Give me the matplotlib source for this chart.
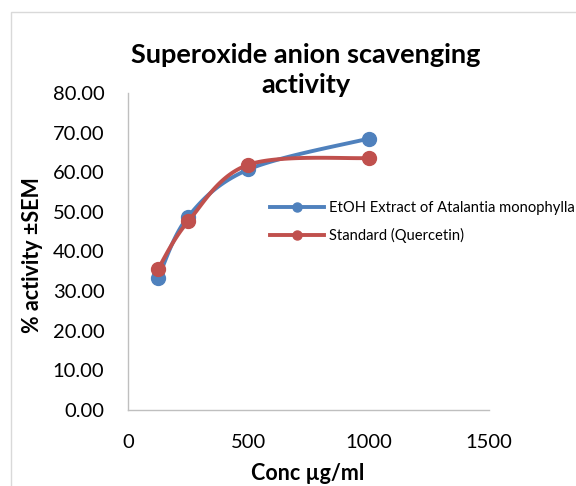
import numpy as np
import matplotlib
matplotlib.use('Agg')
import matplotlib.pyplot as plt
from matplotlib.patches import Rectangle

plt.rcParams['font.family'] = ['Lato', 'DejaVu Sans']

# data
conc = [125, 250, 500, 1000]
etoh = [33.3, 48.8, 60.7, 68.5]
standard = [35.6, 47.6, 61.9, 63.6]
series_names = ['EtOH Extract of Atalantia monophylla', 'Standard (Quercetin)']
y_ticks = [0, 10, 20, 30, 40, 50, 60, 70, 80]
x_ticks = [0, 500, 1000, 1500]


def smooth(xs, ys, n=40):
    # Excel-like smoothed line (Catmull-Rom bezier)
    p = np.column_stack([xs, ys]).astype(float)
    pts = []
    for i in range(len(p) - 1):
        p0 = p[i - 1] if i > 0 else p[i]
        p3 = p[i + 2] if i + 2 < len(p) else p[i + 1]
        c1 = p[i] + (p[i + 1] - p0) / 6
        c2 = p[i + 1] - (p3 - p[i]) / 6
        t = np.linspace(0, 1, n)[:, None]
        seg = ((1 - t) ** 3) * p[i] + 3 * ((1 - t) ** 2) * t * c1 + 3 * (1 - t) * t ** 2 * c2 + t ** 3 * p[i + 1]
        pts.append(seg)
    pts = np.vstack(pts)
    return pts[:, 0], pts[:, 1]


fig = plt.figure(figsize=(5.76, 4.86), dpi=100)
fig.patches.append(Rectangle((11 / 576, -0.1), 1.2, 1 - 12 / 486 + 0.1, transform=fig.transFigure,
                             fill=False, edgecolor='#D9D9D9', lw=1))
ax = fig.add_axes([128 / 576, 76 / 486, 361 / 576, 317 / 486])

colors = ['#4F81BD', '#C0504D']
for ys, c, name in zip([etoh, standard], colors, series_names):
    sx, sy = smooth(conc, ys)
    ax.plot(sx, sy, color=c, lw=2.8, solid_capstyle='round')
    ax.plot(conc, ys, 'o', color=c, ms=10)
    ax.plot([], [], '-o', color=c, lw=2.8, ms=6.5, label=name)

ax.set_xlim(0, 1500)
ax.set_ylim(0, 80)
ax.set_xticks(x_ticks)
ax.set_yticks(y_ticks)
ax.set_yticklabels(['%.2f' % v for v in y_ticks])
ax.tick_params(length=0, labelsize=14.5)
ax.tick_params(axis='y', pad=17)
ax.tick_params(axis='x', pad=17)
for s in ['top', 'right']:
    ax.spines[s].set_visible(False)
for s in ['left', 'bottom']:
    ax.spines[s].set_color('#BFBFBF')
    ax.spines[s].set_linewidth(1)

fig.text(306 / 576, 1 - 70 / 486, 'Superoxide anion scavenging\nactivity', ha='center', va='center',
         fontsize=19.5, fontweight='bold', linespacing=1.3)
fig.text(308 / 576, 1 - 473 / 486, 'Conc µg/ml', ha='center', va='center', fontsize=15.5, fontweight='bold')
fig.text(33 / 576, 1 - 255 / 486, '% activity ±SEM', ha='center', va='center', rotation=90,
         fontsize=15.5, fontweight='bold')

ax.legend(loc='upper left', bbox_to_anchor=(270 / 576, 1 - 201 / 486), bbox_transform=fig.transFigure,
          frameon=False, fontsize=10.6, handlelength=3.7, handletextpad=0.3, labelspacing=0.9,
          borderaxespad=0, borderpad=0)

fig.savefig('out.png', dpi=100)
